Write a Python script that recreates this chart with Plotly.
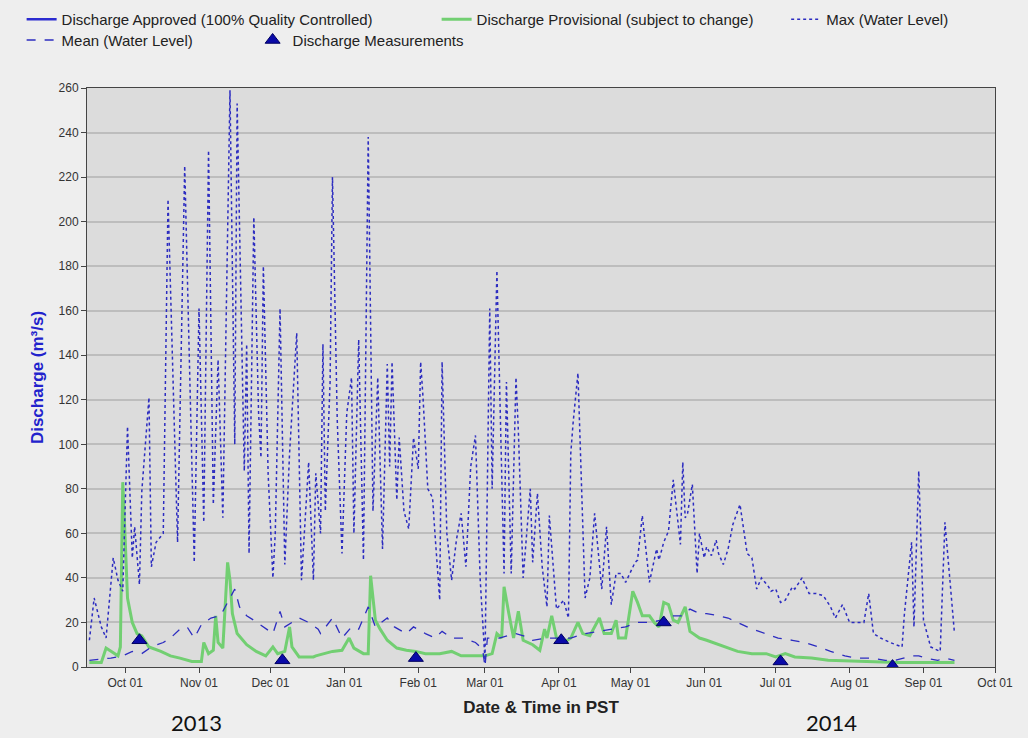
import plotly.graph_objects as go

# ---- Daily maximum water level (m3/s) ----
max_dates = [
    "2013-09-16", "2013-09-18", "2013-09-21", "2013-09-23", "2013-09-26", "2013-09-28", "2013-09-30",
    "2013-10-02", "2013-10-04", "2013-10-05", "2013-10-07", "2013-10-08", "2013-10-11", "2013-10-12",
    "2013-10-14", "2013-10-17", "2013-10-19", "2013-10-23", "2013-10-26", "2013-10-30",
    "2013-11-01", "2013-11-03", "2013-11-05", "2013-11-07", "2013-11-09", "2013-11-11", "2013-11-14",
    "2013-11-16", "2013-11-17", "2013-11-19", "2013-11-20", "2013-11-21", "2013-11-22", "2013-11-24",
    "2013-11-26", "2013-11-27", "2013-11-28", "2013-11-30",
    "2013-12-02", "2013-12-03", "2013-12-05", "2013-12-07", "2013-12-09", "2013-12-12", "2013-12-14",
    "2013-12-17", "2013-12-19", "2013-12-20", "2013-12-22", "2013-12-23", "2013-12-24", "2013-12-26",
    "2013-12-27", "2013-12-29", "2013-12-31",
    "2014-01-02", "2014-01-04", "2014-01-05", "2014-01-07", "2014-01-09", "2014-01-11", "2014-01-13",
    "2014-01-15", "2014-01-17", "2014-01-19", "2014-01-20", "2014-01-21", "2014-01-23", "2014-01-24",
    "2014-01-26", "2014-01-28", "2014-01-30",
    "2014-02-01", "2014-02-02", "2014-02-03", "2014-02-05", "2014-02-07", "2014-02-08", "2014-02-10",
    "2014-02-11", "2014-02-13", "2014-02-15", "2014-02-17", "2014-02-19", "2014-02-21", "2014-02-23",
    "2014-02-25", "2014-02-27",
    "2014-03-01", "2014-03-03", "2014-03-04", "2014-03-06", "2014-03-09", "2014-03-10", "2014-03-12",
    "2014-03-14", "2014-03-15", "2014-03-17", "2014-03-20", "2014-03-21", "2014-03-23", "2014-03-25",
    "2014-03-27", "2014-03-28", "2014-03-30", "2014-03-31",
    "2014-04-03", "2014-04-05", "2014-04-06", "2014-04-07", "2014-04-09", "2014-04-11", "2014-04-12",
    "2014-04-14", "2014-04-16", "2014-04-19", "2014-04-21", "2014-04-23", "2014-04-25", "2014-04-27",
    "2014-04-29",
    "2014-05-03", "2014-05-04", "2014-05-06", "2014-05-09", "2014-05-12", "2014-05-13", "2014-05-15",
    "2014-05-17", "2014-05-19", "2014-05-20", "2014-05-22", "2014-05-23", "2014-05-24", "2014-05-25",
    "2014-05-27", "2014-05-29", "2014-05-30",
    "2014-06-01", "2014-06-02", "2014-06-04", "2014-06-06", "2014-06-07", "2014-06-09", "2014-06-11",
    "2014-06-13", "2014-06-16", "2014-06-19", "2014-06-21", "2014-06-23", "2014-06-25", "2014-06-28",
    "2014-06-29",
    "2014-07-01", "2014-07-03", "2014-07-05", "2014-07-08", "2014-07-09", "2014-07-12", "2014-07-15",
    "2014-07-18", "2014-07-21", "2014-07-24", "2014-07-26", "2014-07-29",
    "2014-08-01", "2014-08-03", "2014-08-07", "2014-08-09", "2014-08-11", "2014-08-14", "2014-08-18",
    "2014-08-23", "2014-08-24", "2014-08-27", "2014-08-28", "2014-08-30",
    "2014-09-01", "2014-09-04", "2014-09-08", "2014-09-10", "2014-09-14",
]
max_values = [
    12, 31, 18, 13, 49, 39, 34,
    108, 49, 63, 37, 79, 121, 45,
    56, 60, 210, 56, 225, 47,
    161, 65, 232, 73, 138, 67, 259,
    100, 253, 153, 88, 145, 51, 202,
    114, 94, 180, 87,
    40, 60, 161, 46, 96, 150, 39,
    92, 39, 87, 60, 145, 70, 128,
    220, 111, 51,
    114, 130, 60, 147, 48, 238, 70,
    130, 53, 136, 90, 137, 75, 103,
    70, 62, 103,
    89, 137, 121, 80, 76, 60, 30,
    137, 60, 39, 57, 69, 45, 90,
    104, 39,
    3, 161, 80, 178, 42, 128, 42,
    130, 106, 40, 80, 47, 78, 45,
    27, 68, 40, 26,
    30, 22, 96, 110, 132, 60, 31,
    40, 69, 35, 63, 28, 42, 42,
    38,
    47, 48, 68, 38, 53, 48, 56,
    61, 84, 75, 55, 92, 67, 69,
    82, 42, 60,
    49, 54, 50, 57, 51, 46, 53,
    64, 73, 51, 49, 35, 40, 36,
    34,
    35, 29, 30, 36, 35, 40, 33,
    33, 32, 27, 22, 28,
    20, 20, 20, 33, 15, 13, 11,
    9, 24, 56, 18, 88,
    21, 9, 7, 65, 15,
]

# ---- Daily mean water level (m3/s) ----
mean_dates = [
    "2013-09-16", "2013-09-25", "2013-09-30", "2013-10-04", "2013-10-08", "2013-10-12", "2013-10-17",
    "2013-10-20", "2013-10-24", "2013-10-27", "2013-10-30", "2013-11-02", "2013-11-06", "2013-11-10",
    "2013-11-13", "2013-11-16", "2013-11-18", "2013-11-21", "2013-11-24", "2013-11-28", "2013-12-02",
    "2013-12-05", "2013-12-07", "2013-12-10", "2013-12-13", "2013-12-17", "2013-12-21", "2013-12-22",
    "2013-12-27", "2013-12-31", "2014-01-04", "2014-01-07", "2014-01-11", "2014-01-14", "2014-01-19",
    "2014-01-22", "2014-01-27", "2014-01-30", "2014-02-04", "2014-02-08", "2014-02-11", "2014-02-15",
    "2014-02-20", "2014-02-25", "2014-02-28", "2014-03-01", "2014-03-02", "2014-03-07", "2014-03-11",
    "2014-03-14", "2014-03-20", "2014-03-21", "2014-03-27", "2014-04-01", "2014-04-06", "2014-04-12",
    "2014-04-18", "2014-04-23", "2014-04-29", "2014-05-04", "2014-05-09", "2014-05-14", "2014-05-18",
    "2014-05-23", "2014-05-26", "2014-05-30", "2014-06-02", "2014-06-07", "2014-06-11", "2014-06-15",
    "2014-06-19", "2014-06-21", "2014-06-24", "2014-06-27", "2014-07-02", "2014-07-08", "2014-07-13",
    "2014-07-19", "2014-07-24", "2014-07-30", "2014-08-04", "2014-08-10", "2014-08-16", "2014-08-20",
    "2014-08-24", "2014-08-27", "2014-08-30", "2014-09-02", "2014-09-07", "2014-09-10", "2014-09-14",
]
mean_values = [
    3, 4, 5, 7, 6, 9, 11,
    13, 17, 18, 13, 19, 22, 23,
    29, 35, 27, 23, 21, 18, 15,
    25, 18, 20, 22, 20, 17, 15,
    22, 13, 18, 17, 27, 18, 22,
    18, 15, 18, 15, 13, 16, 13,
    13, 11, 8, 0, 13, 13, 14,
    15, 13, 12, 13, 13, 13, 15,
    16, 17, 18, 20, 20, 21, 23,
    23, 26, 24, 24, 23, 22, 20,
    18, 17, 16, 15, 13, 12, 11,
    9, 7, 5, 4, 4, 3, 3,
    4, 5, 5, 4, 3, 4, 3,
]

# ---- Provisional discharge (m3/s) ----
prov_dates = [
    "2013-09-16", "2013-09-21", "2013-09-23", "2013-09-25", "2013-09-28", "2013-09-29", "2013-09-30",
    "2013-10-01", "2013-10-02", "2013-10-04", "2013-10-06", "2013-10-08", "2013-10-11", "2013-10-16",
    "2013-10-20", "2013-10-24", "2013-10-29", "2013-11-02", "2013-11-03", "2013-11-05", "2013-11-07",
    "2013-11-08", "2013-11-09", "2013-11-11", "2013-11-13", "2013-11-14", "2013-11-15", "2013-11-17",
    "2013-11-21", "2013-11-25", "2013-11-29", "2013-12-02", "2013-12-04", "2013-12-07", "2013-12-09",
    "2013-12-10", "2013-12-13", "2013-12-19", "2013-12-20", "2013-12-27", "2013-12-31", "2014-01-03",
    "2014-01-05", "2014-01-09", "2014-01-11", "2014-01-12", "2014-01-14", "2014-01-16", "2014-01-19",
    "2014-01-23", "2014-01-27", "2014-01-31", "2014-02-04", "2014-02-10", "2014-02-15", "2014-02-19",
    "2014-02-24", "2014-03-01", "2014-03-04", "2014-03-06", "2014-03-08", "2014-03-09", "2014-03-11",
    "2014-03-13", "2014-03-15", "2014-03-17", "2014-03-21", "2014-03-24", "2014-03-26", "2014-03-27",
    "2014-03-29", "2014-03-31", "2014-04-03", "2014-04-06", "2014-04-09", "2014-04-11", "2014-04-14",
    "2014-04-18", "2014-04-20", "2014-04-23", "2014-04-25", "2014-04-26", "2014-04-29", "2014-05-02",
    "2014-05-04", "2014-05-06", "2014-05-09", "2014-05-11", "2014-05-13", "2014-05-15", "2014-05-17",
    "2014-05-19", "2014-05-21", "2014-05-24", "2014-05-26", "2014-05-30", "2014-06-02", "2014-06-07",
    "2014-06-11", "2014-06-15", "2014-06-21", "2014-06-27", "2014-07-01", "2014-07-05", "2014-07-09",
    "2014-07-16", "2014-07-23", "2014-07-31", "2014-08-10", "2014-08-21", "2014-09-02", "2014-09-14",
]
prov_values = [
    2, 2, 8.5, 7, 5, 9, 83,
    58, 31, 20, 15, 14, 9, 7,
    5, 4, 2.5, 2.5, 11, 6, 7.5,
    23, 11, 8.5, 47, 39, 24, 15,
    10, 7, 5, 9, 6, 7, 18,
    9, 4.5, 4.5, 5, 7, 7.5, 13,
    8.5, 6, 6, 41, 21, 17, 12,
    8.5, 7.5, 7, 6, 6, 7, 5,
    5, 5, 6, 15, 13, 36, 24,
    13, 25, 12, 10, 7.5, 17, 13,
    23, 13, 11, 13, 20, 15, 14,
    22, 15, 15, 21, 13, 13, 34,
    29, 23, 23, 20, 18, 29, 28,
    21, 20, 27, 16, 13, 12, 10,
    8.5, 7, 6, 6, 4.5, 6, 4.5,
    4, 3, 2.7, 2.2, 2, 2, 2,
]

# ---- Field discharge measurements (m3/s) ----
meas_dates = ["2013-10-07", "2013-12-06", "2014-01-31", "2014-04-02", "2014-05-15", "2014-07-03", "2014-08-19"]
meas_values = [12, 3, 4, 12, 20, 2.5, 0.4]

y_ticks = list(range(0, 261, 20))

LINE_BLUE = "#2c2cc0"
GREEN = "#72cf72"
FONT = "Liberation Sans, Arial, sans-serif"

fig = go.Figure()

# Approved series has no data in this period; kept for the legend
fig.add_trace(go.Scatter(
    x=[None], y=[None], mode="lines", name="Discharge Approved (100% Quality Controlled)",
    line=dict(color="#2b2bd0", width=2.5), legend="legend",
))
fig.add_trace(go.Scatter(
    x=prov_dates, y=prov_values, mode="lines", name="Discharge Provisional (subject to change)",
    line=dict(color=GREEN, width=3), legend="legend",
))
fig.add_trace(go.Scatter(
    x=max_dates, y=max_values, mode="lines", name="Max (Water Level)",
    line=dict(color=LINE_BLUE, width=1.5, dash="dot"), legend="legend3",
))
fig.add_trace(go.Scatter(
    x=mean_dates, y=mean_values, mode="lines", name="Mean (Water Level)",
    line=dict(color=LINE_BLUE, width=1.3, dash="dash"), legend="legend2",
))
fig.add_trace(go.Scatter(
    x=meas_dates, y=meas_values, mode="markers", name="Discharge Measurements",
    marker=dict(symbol="triangle-up", size=13, color="#0a0aa8",
                line=dict(color="#000060", width=1)),
    cliponaxis=True, legend="legend2",
))

legend_common = dict(
    orientation="h", bgcolor="rgba(0,0,0,0)", borderwidth=0,
    font=dict(family=FONT, size=15, color="#222222"),
    xanchor="left", yanchor="top", itemwidth=30, tracegroupgap=0,
)

fig.update_layout(
    width=1028, height=738,
    margin=dict(l=87, r=33, t=88, b=71, autoexpand=False),
    paper_bgcolor="#eeeeee",
    plot_bgcolor="#dcdcdc",
    font=dict(family=FONT, size=12, color="#333333"),
    showlegend=True,
    legend=dict(x=-0.072, y=1.147, entrywidth=370, **legend_common),
    legend2=dict(x=-0.072, y=1.111, entrywidth=186, **legend_common),
    legend3=dict(x=0.770, y=1.147, **legend_common),
    xaxis=dict(
        type="date",
        range=["2013-09-15", "2014-10-01"],
        tickformat="%b %d",
        dtick="M1",
        tick0="2013-10-01",
        showgrid=False,
        showline=True, linecolor="#444444", linewidth=1, mirror=True,
        ticks="outside", ticklen=5, tickcolor="#444444",
        tickfont=dict(family=FONT, size=12, color="#333333"),
        title=dict(text="<b>Date & Time in PST</b>", standoff=11,
                   font=dict(family=FONT, size=17, color="#222222")),
        zeroline=False,
    ),
    yaxis=dict(
        range=[0, 260],
        tickvals=y_ticks,
        showgrid=True, gridcolor="#bdbdbd", gridwidth=1.5,
        showline=True, linecolor="#444444", linewidth=1, mirror=True,
        ticks="outside", ticklen=5, tickcolor="#444444",
        tickfont=dict(family=FONT, size=12, color="#333333"),
        title=dict(text="<b>Discharge (m³/s)</b>", standoff=10,
                   font=dict(family=FONT, size=17, color="#2222cc")),
        zeroline=False,
    ),
    annotations=[
        dict(text="2013", x=0.121, y=-0.095, xref="paper", yref="paper",
             xanchor="center", yanchor="middle", showarrow=False,
             font=dict(family="Lato, sans-serif", size=22, color="#111111")),
        dict(text="2014", x=0.820, y=-0.095, xref="paper", yref="paper",
             xanchor="center", yanchor="middle", showarrow=False,
             font=dict(family="Lato, sans-serif", size=22, color="#111111")),
    ],
)

fig.write_html("out.html")
